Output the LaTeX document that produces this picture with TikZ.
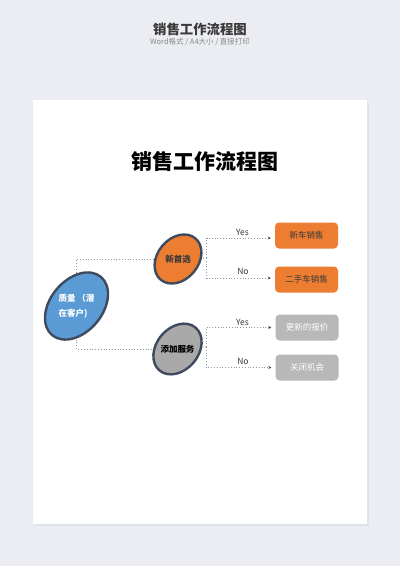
\documentclass[tikz,border=0pt]{standalone}
\usepackage{fontspec}
\setmainfont{Noto Sans CJK SC}
\usetikzlibrary{shapes.geometric,arrows.meta}
\definecolor{pagebgc}{HTML}{EBEDF2}
\definecolor{shadowc}{HTML}{DEE2E9}
\definecolor{hdrc}{HTML}{3A3A3A}
\definecolor{subc}{HTML}{8A8A8A}
\definecolor{borderc}{HTML}{3E4B5E}
\definecolor{bluec}{HTML}{5B9BD5}
\definecolor{orangec}{HTML}{ED7D31}
\definecolor{grayellc}{HTML}{A9A9A9}
\definecolor{grayboxc}{HTML}{B8B8B8}
\definecolor{linec}{HTML}{8C96A8}
\definecolor{tipc}{HTML}{4A5568}
\pgfdeclarelayer{pagelayer}
\pgfdeclarelayer{linelayer}
\pgfsetlayers{pagelayer,linelayer,main}
\tikzset{
  ell/.style={ellipse, draw=borderc, line width=2.4pt, inner sep=0pt, rotate=50},
  elltext/.style={font=\fontsize{8.5}{15}\selectfont\bfseries, inner sep=0pt},
  boxnode/.style={rounded corners=4pt, minimum width=63pt, minimum height=26pt, inner sep=0pt, font=\fontsize{8.5}{10}\selectfont},
  conn/.style={draw=linec, line width=0.8pt, dotted},
  arr/.style={-{Stealth[length=3pt,width=3pt,tipc]}, shorten >=4pt},
  lbl/.style={font=\fontsize{8.5}{10}\selectfont, text=hdrc, inner sep=0pt},
}
\begin{document}
\begin{tikzpicture}[x=1pt,y=-1pt]
\useasboundingbox (0,0) rectangle (400,566);
\begin{pgfonlayer}{pagelayer}
  \fill[pagebgc] (0,0) rectangle (400,566);
  \fill[shadowc] (34,102) rectangle (368.5,525.5);
  \fill[white] (33,100) rectangle (367,523.5);
\end{pgfonlayer}
% header
\node[font=\fontsize{13.4}{15}\selectfont\bfseries, text=hdrc, inner sep=0pt] (hdr) at (200,29) {销售工作流程图};
\node[font=\fontsize{7.5}{9}\selectfont, text=subc, inner sep=0pt] (sub) at (200,42.5) {Word格式 / A4大小 / 直接打印};
% main title
\node[font=\fontsize{21}{24}\selectfont\bfseries, text=black, inner sep=0pt] (title) at (205,161.7) {销售工作流程图};
% ellipses
\node[ell, fill=bluec, minimum width=76pt, minimum height=52pt] (q) at (76.5,306) {};
\node[elltext, text=white, align=left] (qt) at (q.center) {质量 （潜\\在客户)};
\node[ell, fill=orangec, minimum width=54pt, minimum height=41pt] (n1) at (178,259) {};
\node[elltext, text=hdrc] (n1t) at (n1.center) {新首选};
\node[ell, fill=grayellc, minimum width=56pt, minimum height=42pt] (n2) at (177.5,349) {};
\node[elltext, text=black] (n2t) at (n2.center) {添加服务};
% boxes
\node[boxnode, fill=orangec, text=hdrc] (b1) at (306.5,235.5) {新车销售};
\node[boxnode, fill=orangec, text=hdrc] (b2) at (306.5,279.5) {二手车销售};
\node[boxnode, fill=grayboxc, text=white] (b3) at (307,327.5) {更新的报价};
\node[boxnode, fill=grayboxc, text=white] (b4) at (307,367.5) {关闭机会};
% bracket points
\coordinate (c1) at (206.5,258);
\coordinate (c2) at (206.5,347);
\begin{pgfonlayer}{linelayer}
  \draw[conn] (q.center) |- (n1.center);
  \draw[conn] (q.center) |- (n2.center);
  \draw[conn] (n1.center) -- (c1);
  \draw[conn] (n2.center) -- (c2);
\end{pgfonlayer}
\draw[conn, arr] (c1) |- ([yshift=-2.5pt]b1.west);
\draw[conn, arr] (c1) |- ([yshift=1.5pt]b2.west);
\draw[conn, arr] (c2) |- (b3.west);
\draw[conn, arr] (c2) |- (b4.west);
% labels
\node[lbl] (y1) at (242.5,232) {Yes};
\node[lbl] (no1) at (243,271) {No};
\node[lbl] (y2) at (242.5,322.5) {Yes};
\node[lbl] (no2) at (243,361.5) {No};
\end{tikzpicture}
\end{document}
